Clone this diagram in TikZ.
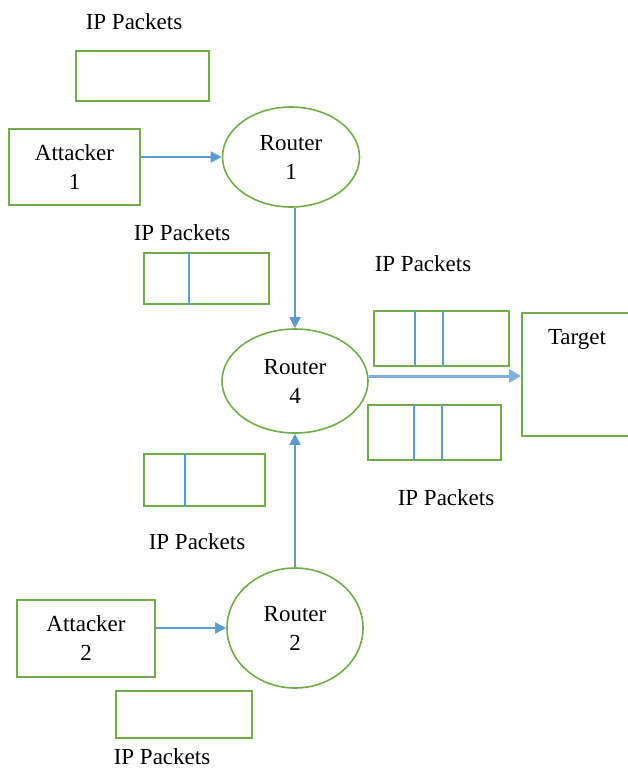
\documentclass[tikz,border=0pt]{standalone}
\usepackage{fontspec}
\setmainfont{Liberation Serif}
\usetikzlibrary{shapes.geometric,arrows.meta,calc}
\definecolor{boxgreen}{RGB}{112,173,71}
\definecolor{linkblue}{RGB}{91,155,213}
\begin{document}
\begin{tikzpicture}[x=1pt,y=-1pt,
  font=\fontsize{23}{29}\selectfont,
  box/.style={draw=boxgreen, line width=2pt, rectangle, inner sep=0pt, align=center},
  router/.style={draw=boxgreen, line width=1.6pt, ellipse, inner sep=0pt, align=center},
  link/.style={draw=linkblue, line width=1.7pt, -{Triangle[length=11pt,width=11pt]}},
  mainlink/.style={draw=linkblue!80, line width=3pt, -{Triangle[length=12pt,width=13pt]}},
  divider/.style={draw=linkblue, line width=1.7pt},
  lbl/.style={inner sep=0pt}]
\path[use as bounding box] (0,0) rectangle (627,769);

% upper attacker path
\node[lbl] (t1) at (134,22) {IP Packets};
\node[box, minimum width=133pt, minimum height=50pt] (p1) at (142.5,76) {};
\node[box, minimum width=131pt, minimum height=76pt] (a1) at (74.5,167) {Attacker\\1};
\node[router, minimum width=137pt, minimum height=100pt] (r1) at (291,157) {Router\\1};

\node[lbl] (t2) at (182,233) {IP Packets};
\node[box, minimum width=125pt, minimum height=51pt] (p2) at (206.5,278.5) {};
\draw[divider] ($(p2.north west)+(46,0)$) -- ($(p2.south west)+(46,0)$);

% central router and target
\node[router, minimum width=146pt, minimum height=104pt] (r4) at (295,381) {Router\\4};

\node[lbl] (t3) at (423,264) {IP Packets};
\node[box, minimum width=135pt, minimum height=55pt] (p3) at (441.5,338.5) {};
\draw[divider] ($(p3.north west)+(42,0)$) -- ($(p3.south west)+(42,0)$);
\draw[divider] ($(p3.north west)+(70,0)$) -- ($(p3.south west)+(70,0)$);

\node[box, minimum width=110pt, minimum height=123pt] (tg) at (577,374.5) {};
\node[lbl] (tgl) at ($(tg.north)+(0,27)$) {Target};

\node[box, minimum width=133pt, minimum height=55pt] (p4) at (434.5,432.5) {};
\draw[divider] ($(p4.north west)+(47,0)$) -- ($(p4.south west)+(47,0)$);
\draw[divider] ($(p4.north west)+(75,0)$) -- ($(p4.south west)+(75,0)$);
\node[lbl] (t4) at (446,498) {IP Packets};

% lower attacker path
\node[box, minimum width=121pt, minimum height=52pt] (p5) at (204.5,480) {};
\draw[divider] ($(p5.north west)+(42,0)$) -- ($(p5.south west)+(42,0)$);
\node[lbl] (t5) at (197,542) {IP Packets};

\node[router, minimum width=136pt, minimum height=120pt] (r2) at (295,628) {Router\\2};
\node[box, minimum width=138pt, minimum height=77pt] (a2) at (86,638.5) {Attacker\\2};
\node[box, minimum width=136pt, minimum height=47pt] (p6) at (184,714.5) {};
\node[lbl] (t6) at (162,757) {IP Packets};

% connectors
\draw[link] (a1.east |- r1.west) -- (r1.west);
\draw[link] (r4.north |- r1.south) -- (r4.north);
\draw[link] (a2.east |- r2.west) -- (r2.west);
\draw[link] (r2.north) -- (r4.south);
\draw[mainlink] ($(r4.east)+(0,-5)$) -- ($(r4.east -| tg.west)+(0,-5)$);
\end{tikzpicture}
\end{document}
